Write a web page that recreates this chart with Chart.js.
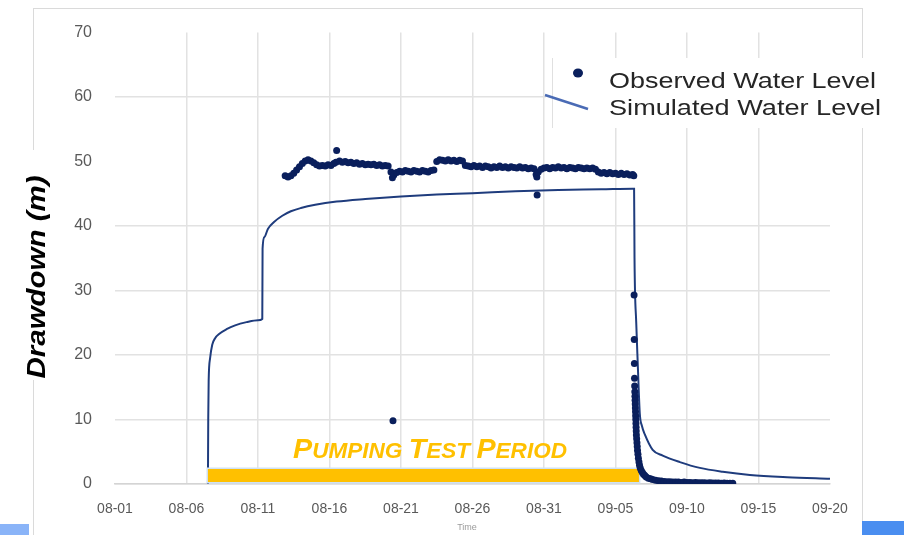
<!DOCTYPE html>
<html>
<head>
<meta charset="utf-8">
<script src="https://cdn.jsdelivr.net/npm/chart.js@4.4.1/dist/chart.umd.min.js"></script>
<style>
  html, body { margin: 0; padding: 0; background: #fff; }
  #wrap { width: 904px; height: 535px; position: relative; }
</style>
</head>
<body>
<div id="wrap"><canvas id="chart" width="904" height="535"></canvas></div>
<script>
// x is in days counted from 08-01
const xTickLabels = ['08-01', '08-06', '08-11', '08-16', '08-21', '08-26', '08-31', '09-05', '09-10', '09-15', '09-20'];

// observed water level (drawdown, m)
const obsDay = [
    11.9, 12.1, 12.3, 12.5, 12.7, 12.9, 13.1, 13.3, 13.5, 13.7, 13.9, 14.1, 14.3, 14.5, 14.7, 14.9, 15.1, 15.3, 15.45, 15.5,
    15.7, 15.9, 16.1, 16.3, 16.5, 16.7, 16.9, 17.1, 17.3, 17.5, 17.7, 17.9, 18.1, 18.3, 18.5, 18.7, 18.9, 19.1, 19.3, 19.4,
    19.44, 19.5, 19.7, 19.9, 20.1, 20.3, 20.5, 20.7, 20.9, 21.1, 21.3, 21.5, 21.7, 21.9, 22.1, 22.3, 22.5, 22.7, 22.9, 23.1,
    23.3, 23.5, 23.7, 23.9, 24.1, 24.3, 24.5, 24.7, 24.9, 25.1, 25.3, 25.5, 25.7, 25.9, 26.1, 26.3, 26.5, 26.7, 26.9, 27.1,
    27.3, 27.5, 27.7, 27.9, 28.1, 28.3, 28.5, 28.7, 28.9, 29.1, 29.3, 29.45, 29.5, 29.52, 29.6, 29.8, 30.0, 30.2, 30.4, 30.6,
    30.8, 31.0, 31.2, 31.4, 31.6, 31.8, 32.0, 32.2, 32.4, 32.6, 32.8, 33.0, 33.2, 33.4, 33.6, 33.8, 34.0, 34.2, 34.4, 34.6,
    34.8, 35.0, 35.2, 35.4, 35.6, 35.8, 36.0, 36.2, 36.28,
    36.30, 36.31, 36.32, 36.33, 36.34, 36.35, 36.36, 36.37, 36.38, 36.39, 36.40, 36.41, 36.42, 36.43, 36.44, 36.45, 36.46,
    36.48, 36.50, 36.52, 36.54, 36.57, 36.60, 36.64, 36.68, 36.73, 36.80, 36.88, 36.96, 37.05, 37.15, 37.3, 37.45, 37.6,
    37.8, 38.0, 38.2, 38.4, 38.6, 38.8, 39.0, 39.2, 39.4, 39.6, 39.8, 40.0, 40.2, 40.4, 40.6, 40.8, 41.0, 41.2, 41.4, 41.6,
    41.8, 42.0, 42.2, 42.4, 42.6, 42.8, 43.0, 43.2
];
const obsLevel = [
    47.8, 47.6, 47.8, 48.2, 48.7, 49.2, 49.7, 50.1, 50.3, 50.1, 49.8, 49.5, 49.3, 49.4, 49.3, 49.5, 49.4, 49.7, 49.9, 51.7,
    50.1, 49.9, 50.0, 49.8, 49.9, 49.7, 49.8, 49.6, 49.7, 49.5, 49.6, 49.5, 49.6, 49.4, 49.5, 49.3, 49.4, 49.3, 48.4, 47.5,
    9.8, 47.9, 48.3, 48.5, 48.4, 48.6, 48.5, 48.4, 48.6, 48.5, 48.4, 48.6, 48.5, 48.4, 48.6, 48.7, 50.0, 50.3, 50.2, 50.1,
    50.3, 50.1, 50.2, 50.0, 50.2, 50.1, 49.4, 49.3, 49.2, 49.4, 49.2, 49.3, 49.1, 49.3, 49.2, 49.0, 49.2, 49.1, 49.3, 49.1,
    49.2, 49.0, 49.2, 49.1, 49.0, 49.2, 49.0, 49.1, 48.9, 49.0, 48.9, 48.0, 47.6, 44.8, 48.4, 48.8, 49.0, 49.1, 48.9, 49.1,
    49.0, 49.2, 49.0, 49.1, 48.9, 49.1, 49.0, 48.9, 49.1, 49.0, 48.9, 49.0, 48.9, 49.0, 48.8, 48.4, 48.2, 48.3, 48.1, 48.3,
    48.1, 48.2, 48.0, 48.2, 48.0, 48.1, 47.9, 48.0, 47.8,
    29.3, 22.4, 18.7, 16.4, 15.2, 14.3, 13.6, 13.0, 12.4, 11.8, 11.2, 10.6, 10.0, 9.4, 8.8, 8.2, 7.6,
    7.0, 6.4, 5.8, 5.2, 4.6, 4.0, 3.4, 2.9, 2.5, 2.1, 1.8, 1.5, 1.3, 1.1, 0.9, 0.8, 0.7,
    0.6, 0.5, 0.45, 0.4, 0.35, 0.35, 0.3, 0.3, 0.3, 0.25, 0.3, 0.25, 0.25, 0.2, 0.25, 0.2, 0.2, 0.2, 0.15, 0.2,
    0.15, 0.15, 0.15, 0.1, 0.15, 0.1, 0.1, 0.1
];

// simulated water level
const simDay = [
    6.5, 6.52, 6.55, 6.65, 6.8, 7.0, 7.3, 7.8, 8.4, 9.2, 10.0, 10.3,
    10.32, 10.45, 10.7, 11.1, 11.7, 12.3, 13.0, 14.0, 15.5, 17.5, 20, 22.5, 25, 28, 31, 34, 36.2, 36.3,
    36.33, 36.45, 36.55, 36.7, 36.85, 37.05, 37.6, 38.3, 39.5, 40.9, 42.5, 44.4, 47, 50
];
const simLevel = [
    0, 10, 16, 19.5, 21.6, 22.6, 23.3, 24.0, 24.6, 25.1, 25.4, 25.6,
    36.5, 38.3, 39.6, 40.6, 41.6, 42.3, 42.8, 43.3, 43.8, 44.2, 44.6, 44.9, 45.1, 45.4, 45.6, 45.7, 45.8, 45.8,
    35.0, 25.0, 19.0, 10.9, 9.0, 7.7, 5.3, 4.4, 3.4, 2.5, 1.9, 1.4, 1.05, 0.8
];

// pumping test period bar
const pumpDay = [6.5, 36.64];
const pumpLevel = [1.3, 1.3];

const navy = '#0a1f5c';
const simColor = '#1f3c7d';
const gridColor = '#e2e2e2';
const tickColor = '#595959';

function toPoints(xs, ys) {
    return xs.map((x, i) => ({ x: x, y: ys[i] }));
}

function drawStretched(c, text, x, y, targetW) {
    const w = c.measureText(text).width;
    c.save();
    c.translate(x, y);
    c.scale(targetW / w, 1);
    c.fillText(text, 0, 0);
    c.restore();
}

const decor = {
    id: 'decor',
    beforeDraw(chart) {
        const c = chart.ctx;
        c.save();
        c.fillStyle = '#fff';
        c.fillRect(0, 0, chart.width, chart.height);
        c.strokeStyle = '#dadada';
        c.lineWidth = 1;
        c.strokeRect(33.5, 8.5, 829, 540);
        c.restore();
    },
    afterDraw(chart) {
        const c = chart.ctx;
        c.save();

        // y axis title on a white patch
        c.fillStyle = '#fff';
        c.fillRect(16, 150, 42, 230);
        c.translate(38, 277);
        c.rotate(-Math.PI / 2);
        c.font = 'bold italic 26px "Liberation Sans", Arial, sans-serif';
        c.fillStyle = '#000';
        c.textAlign = 'center';
        c.textBaseline = 'middle';
        const tw = c.measureText('Drawdown (m)').width;
        c.scale(203 / tw, 1);
        c.fillText('Drawdown (m)', 0, 0);
        c.restore();

        // legend box
        c.save();
        c.fillStyle = '#fff';
        c.fillRect(546, 58, 354, 70);
        c.strokeStyle = '#e0e0e0';
        c.lineWidth = 1;
        c.beginPath();
        c.moveTo(552.5, 58);
        c.lineTo(552.5, 128);
        c.stroke();
        c.fillStyle = navy;
        c.beginPath();
        c.ellipse(578, 73, 5, 4.5, 0, 0, Math.PI * 2);
        c.fill();
        c.strokeStyle = '#4a6bb5';
        c.lineWidth = 2.5;
        c.beginPath();
        c.moveTo(545, 95);
        c.lineTo(588, 109);
        c.stroke();
        c.fillStyle = '#262626';
        c.font = '22px "Liberation Sans", Arial, sans-serif';
        c.textBaseline = 'alphabetic';
        c.textAlign = 'left';
        drawStretched(c, 'Observed Water Level', 609, 88, 267);
        drawStretched(c, 'Simulated Water Level', 609, 115, 272);
        c.restore();

        // pumping test period label (small caps)
        c.save();
        const parts = [['P', 28], ['UMPING ', 22], ['T', 28], ['EST ', 22], ['P', 28], ['ERIOD', 22]];
        let total = 0;
        parts.forEach(p => {
            c.font = 'bold italic ' + p[1] + 'px "Liberation Sans", Arial, sans-serif';
            total += c.measureText(p[0]).width;
        });
        c.translate(293, 458);
        c.scale(274 / total, 1);
        c.fillStyle = '#ffc000';
        c.textBaseline = 'alphabetic';
        let px = 0;
        parts.forEach(p => {
            c.font = 'bold italic ' + p[1] + 'px "Liberation Sans", Arial, sans-serif';
            c.fillText(p[0], px, 0);
            px += c.measureText(p[0]).width;
        });
        c.restore();

        // tiny x title
        c.save();
        c.fillStyle = '#9a9a9a';
        c.font = '9px "Liberation Sans", Arial, sans-serif';
        c.textAlign = 'center';
        c.textBaseline = 'middle';
        c.fillText('Time', 467, 528);
        c.restore();

        // slide bars at the bottom corners
        c.save();
        c.fillStyle = '#8ab4f8';
        c.fillRect(0, 524, 29, 11);
        c.fillStyle = '#4a8ef0';
        c.fillRect(862, 521, 42, 14);
        c.restore();
    }
};

new Chart(document.getElementById('chart'), {
    type: 'scatter',
    data: {
        datasets: [
            {
                label: 'Observed Water Level',
                data: toPoints(obsDay, obsLevel),
                showLine: false,
                pointRadius: 3.5,
                pointBackgroundColor: navy,
                pointBorderWidth: 0,
                order: 1
            },
            {
                label: 'Pumping fill',
                data: toPoints(pumpDay, pumpLevel),
                showLine: true,
                borderColor: '#ffc000',
                borderWidth: 13,
                borderCapStyle: 'butt',
                pointRadius: 0,
                order: 2
            },
            {
                label: 'Pumping edge',
                data: toPoints([pumpDay[0] - 0.1, pumpDay[1] + 0.1], pumpLevel),
                showLine: true,
                borderColor: '#cfe1f3',
                borderWidth: 16,
                borderCapStyle: 'butt',
                pointRadius: 0,
                order: 3
            },
            {
                label: 'Simulated Water Level',
                data: toPoints(simDay, simLevel),
                showLine: true,
                borderColor: simColor,
                borderWidth: 2,
                pointRadius: 0,
                cubicInterpolationMode: 'monotone',
                order: 4
            }
        ]
    },
    options: {
        responsive: false,
        animation: false,
        layout: { padding: { left: 0, right: 74, top: 28, bottom: 0 } },
        plugins: {
            legend: { display: false },
            tooltip: { enabled: false }
        },
        scales: {
            x: {
                type: 'linear',
                min: 0,
                max: 50,
                afterFit: s => { s.height = 51; },
                afterBuildTicks: s => { s.ticks = xTickLabels.map((l, i) => ({ value: i * 5 })); },
                grid: {
                    drawTicks: false,
                    lineWidth: 1.5,
                    color: ctx => (ctx.tick && (ctx.tick.value === 0 || ctx.tick.value === 50)) ? 'rgba(0,0,0,0)' : gridColor
                },
                border: { display: true, color: '#d4d4d4', width: 1.5 },
                ticks: {
                    padding: 17,
                    maxRotation: 0,
                    autoSkip: false,
                    color: tickColor,
                    font: { family: '"Liberation Sans", Arial, sans-serif', size: 14 },
                    callback: (v, i) => xTickLabels[i]
                }
            },
            y: {
                min: 0,
                max: 70,
                afterFit: s => { s.width = 115; },
                grid: {
                    drawTicks: false,
                    lineWidth: 1.5,
                    color: ctx => (ctx.tick && (ctx.tick.value === 50 || ctx.tick.value === 70)) ? 'rgba(0,0,0,0)' : gridColor
                },
                border: { display: false },
                ticks: {
                    stepSize: 10,
                    padding: 23,
                    color: tickColor,
                    font: { family: '"Liberation Sans", Arial, sans-serif', size: 16 }
                }
            }
        }
    },
    plugins: [decor]
});
</script>
</body>
</html>
